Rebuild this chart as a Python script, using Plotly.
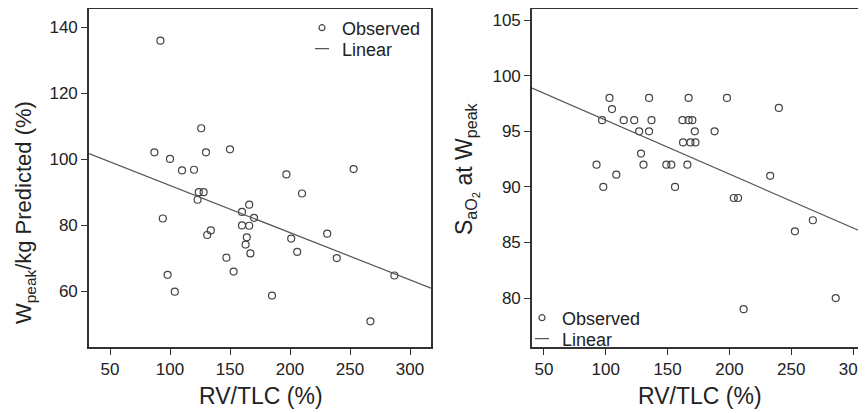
import plotly.graph_objects as go

# ---- data ----
rv_tlc_w = [92, 126, 87, 100, 110, 120, 130, 150, 197, 253,
            124, 128, 123, 210, 166, 160, 170, 94, 160, 166,
            134, 131, 231, 164, 201, 163, 167, 206, 147, 239,
            153, 98, 287, 104, 185, 267]
wpeak_pred = [136, 109.4, 102.1, 100.1, 96.6, 96.8, 102.1, 103, 95.4, 97,
              90, 90, 87.7, 89.6, 86.2, 84, 82.2, 82, 79.9, 79.8,
              78.4, 77, 77.4, 76.3, 75.9, 74.1, 71.4, 71.9, 70.1, 70,
              65.9, 64.9, 64.7, 59.8, 58.6, 50.8]

rv_tlc_s = [103, 135, 167, 198, 240, 105, 97, 114.5, 123, 137,
            162, 167, 170, 127, 135, 172, 188, 162.5, 168.5, 172.5,
            128.5, 92.5, 130.5, 149, 153, 166, 108.5, 233, 98, 156,
            203.5, 207, 267.5, 253, 286, 211.5]
sao2_peak = [98, 98, 98, 98, 97.1, 97, 96, 96, 96, 96,
             96, 96, 96, 95, 95, 95, 95, 94, 94, 94,
             93, 92, 92, 92, 92, 92, 91.1, 91, 90, 90,
             89, 89, 87, 86, 80, 79]

# linear fits (intercept, slope)
fit_w = (106.35, -0.1432)
fit_s = (100.85, -0.0485)

x_ticks = [50, 100, 150, 200, 250, 300]
y_ticks_w = [60, 80, 100, 120, 140]
y_ticks_s = [80, 85, 90, 95, 100, 105]

xrange_w = [32.5, 317.5]
yrange_w = [43, 145.6]
xrange_s = [40.3, 310.5]
yrange_s = [75.6, 106]

# page body has an 8px margin: size the figure so it fills the window
OFF = 8
W, H = 866 - OFF, 413 - OFF
T, B = 9 - OFF, 413 - 347
PH = H - T - B

FONT = "Liberation Sans, Arial, sans-serif"
TXT = "#222222"
FRAME = "#333333"
MK = "#444444"
LN = "#555555"


def fx(p):
    return (p - OFF) / W


def fy(p):
    return 1 - (p - OFF - T) / PH


fig = go.Figure()


def add_panel(xs, ys, fit, xr, xa, ya, leg_obs, leg_lin):
    fig.add_trace(go.Scatter(
        x=xs, y=ys, mode="markers", xaxis=xa, yaxis=ya, showlegend=False,
        marker=dict(symbol="circle-open", size=7, color=MK, line=dict(width=1.2, color=MK)),
        hoverinfo="x+y"))
    b0, b1 = fit
    fig.add_trace(go.Scatter(
        x=xr, y=[b0 + b1 * v for v in xr], mode="lines", xaxis=xa, yaxis=ya,
        showlegend=False, line=dict(color=LN, width=1.2)))
    fig.add_trace(go.Scatter(
        x=[None], y=[None], mode="markers", name="Observed", xaxis=xa, yaxis=ya,
        legend=leg_obs,
        marker=dict(symbol="circle-open", size=6, color=MK, line=dict(width=1.2, color=MK))))
    fig.add_trace(go.Scatter(
        x=[None], y=[None], mode="markers", name="Linear", xaxis=xa, yaxis=ya,
        legend=leg_lin,
        marker=dict(symbol="line-ew-open", size=10, color=LN, line=dict(width=1.2, color=LN))))


add_panel(rv_tlc_w, wpeak_pred, fit_w, xrange_w, "x", "y", "legend", "legend2")
add_panel(rv_tlc_s, sao2_peak, fit_s, xrange_s, "x2", "y2", "legend3", "legend4")

axis_common = dict(
    showgrid=False, zeroline=False, showline=True, linecolor=FRAME, linewidth=1.6,
    ticks="outside", ticklen=6, tickwidth=1, tickcolor=FRAME,
    tickfont=dict(family=FONT, size=17, color=TXT))


def leg(left_px, center_px):
    return dict(x=fx(left_px), xanchor="left", y=fy(center_px), yanchor="middle",
                font=dict(family=FONT, size=18, color=TXT),
                bgcolor="rgba(0,0,0,0)", itemwidth=30, tracegroupgap=0)


fig.update_layout(
    width=W, height=H,
    margin=dict(l=0, r=0, t=T, b=B),
    paper_bgcolor="white", plot_bgcolor="white",
    font=dict(family=FONT, color=TXT),
    xaxis=dict(domain=[fx(89), fx(431)], range=xrange_w, tickvals=x_ticks,
               mirror=True, anchor="y", **axis_common),
    yaxis=dict(domain=[0, 1], range=yrange_w, tickvals=y_ticks_w,
               mirror=True, anchor="x", **axis_common),
    xaxis2=dict(domain=[fx(532), 1.0], range=xrange_s, tickvals=x_ticks,
                mirror=True, anchor="y2", ticklabeloverflow="allow", **axis_common),
    yaxis2=dict(domain=[0, 1], range=yrange_s, tickvals=y_ticks_s,
                mirror=False, anchor="x2", **axis_common),
    legend=leg(302, 28),
    legend2=leg(302, 49),
    legend3=leg(522, 318),
    legend4=leg(522, 339),
)

title_font = dict(family=FONT, size=23, color=TXT)
fig.add_annotation(text="RV/TLC (%)", x=fx(261), y=fy(396), xref="paper", yref="paper",
                   showarrow=False, xanchor="center", yanchor="middle", font=title_font)
fig.add_annotation(text="RV/TLC (%)", x=fx(700), y=fy(396), xref="paper", yref="paper",
                   showarrow=False, xanchor="center", yanchor="middle", font=title_font)
fig.add_annotation(text="W<sub>peak</sub>/kg Predicted (%)", x=fx(25), y=fy(213),
                   xref="paper", yref="paper", showarrow=False, textangle=-90,
                   xanchor="center", yanchor="middle",
                   font=dict(family=FONT, size=22, color=TXT))
fig.add_annotation(text="S<sub>aO<sub>2</sub></sub> at W<sub>peak</sub>", x=fx(466), y=fy(169),
                   xref="paper", yref="paper", showarrow=False, textangle=-90,
                   xanchor="center", yanchor="middle", font=title_font)

fig.write_html("out.html")
